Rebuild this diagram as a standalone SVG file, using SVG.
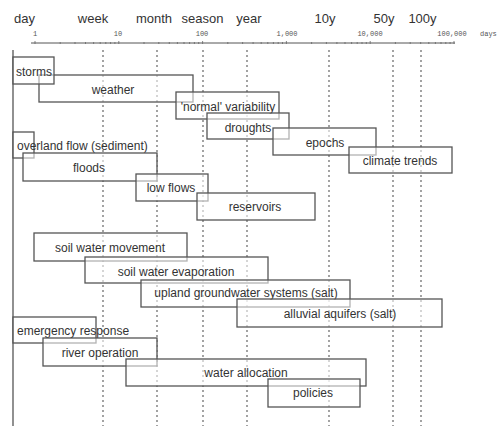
<svg xmlns="http://www.w3.org/2000/svg" width="502" height="426" viewBox="0 0 502 426">
<style>
.scale{font-family:"Liberation Sans",Arial,sans-serif;font-size:13px;fill:#333;text-anchor:middle}
.num{font-family:"Liberation Mono","Courier New",monospace;font-size:7px;fill:#555;text-anchor:middle}
.grid{stroke:#666;stroke-width:1.2;stroke-dasharray:2 3;fill:none}
.box rect{fill:#fff;fill-opacity:0.55;stroke:#555;stroke-width:1.3}
.box text{font-family:"Liberation Sans",Arial,sans-serif;font-size:12px;fill:#333;text-anchor:middle}
.box text.l{text-anchor:start}
.tick{stroke:#666;stroke-width:0.8}
</style>
<rect width="502" height="426" fill="#fff"/>
<g id="scale">
<text class="scale" x="24.5" y="23">day</text>
<text class="scale" x="93" y="23">week</text>
<text class="scale" x="154" y="23">month</text>
<text class="scale" x="202.5" y="23">season</text>
<text class="scale" x="249" y="23">year</text>
<text class="scale" x="325" y="23">10y</text>
<text class="scale" x="384" y="23">50y</text>
<text class="scale" x="422.5" y="23">100y</text>
<text class="num" x="35" y="36">1</text>
<text class="num" x="118" y="36">10</text>
<text class="num" x="202" y="36">100</text>
<text class="num" x="287" y="36">1,000</text>
<text class="num" x="370" y="36">10,000</text>
<text class="num" x="452" y="36">100,000</text>
<text class="num" x="480" y="36" style="text-anchor:start">days</text>
<line x1="31" y1="43" x2="455" y2="43" stroke="#555" stroke-width="1"/>
<path class="tick" d="M35 41v3M60.2 42v2M75 42v2M85.5 42v2M93.6 42v2M100.2 42v2M105.8 42v2M110.6 42v2M114.9 42v2M118.8 41v3M144 42v2M158.8 42v2M169.3 42v2M177.4 42v2M184 42v2M189.6 42v2M194.4 42v2M198.7 42v2M202.6 41v3M227.8 42v2M242.6 42v2M253.1 42v2M261.2 42v2M267.8 42v2M273.4 42v2M278.2 42v2M282.5 42v2M286.4 41v3M311.6 42v2M326.4 42v2M336.9 42v2M345 42v2M351.6 42v2M357.2 42v2M362 42v2M366.3 42v2M370.2 41v3M395.4 42v2M410.2 42v2M420.7 42v2M428.8 42v2M435.4 42v2M441 42v2M445.8 42v2M450.1 42v2M454 41v3"/>
</g>
<g id="grid">
<line x1="13" y1="50" x2="13" y2="426" stroke="#555" stroke-width="1.3"/>
<line class="grid" x1="103" y1="50" x2="103" y2="426"/>
<line class="grid" x1="157" y1="50" x2="157" y2="426"/>
<line class="grid" x1="203" y1="50" x2="203" y2="426"/>
<line class="grid" x1="247" y1="50" x2="247" y2="426"/>
<line class="grid" x1="329" y1="50" x2="329" y2="426"/>
<line class="grid" x1="393" y1="50" x2="393" y2="426"/>
<line class="grid" x1="421" y1="50" x2="421" y2="426"/>
</g>
<g id="connectors"></g>
<g id="weather" class="box"><rect x="39" y="75" width="154" height="27"/><text x="113" y="94">weather</text></g>
<g id="storms" class="box"><rect x="13" y="57" width="41" height="27"/><text x="34" y="76">storms</text></g>
<g id="normal-variability" class="box"><rect x="176" y="92" width="103" height="27"/><text x="228" y="111">'normal' variability</text></g>
<g id="droughts" class="box"><rect x="207" y="113" width="82" height="26"/><text x="248" y="132">droughts</text></g>
<g id="epochs" class="box"><rect x="273" y="128" width="103" height="27"/><text x="325" y="147">epochs</text></g>
<g id="climate-trends" class="box"><rect x="349" y="147" width="103" height="26"/><text x="400" y="165">climate trends</text></g>
<g id="overland-flow" class="box"><rect x="13" y="132" width="21" height="26"/><text class="l" x="17" y="150">overland flow (sediment)</text></g>
<g id="floods" class="box"><rect x="23" y="153" width="134" height="28"/><text x="89" y="172">floods</text></g>
<g id="low-flows" class="box"><rect x="136" y="174" width="72" height="27"/><text x="171" y="192">low flows</text></g>
<g id="reservoirs" class="box"><rect x="197" y="193" width="118" height="27"/><text x="255" y="211">reservoirs</text></g>
<g id="soil-water-movement" class="box"><rect x="34" y="233" width="153" height="28"/><text x="110" y="252">soil water movement</text></g>
<g id="soil-water-evaporation" class="box"><rect x="85" y="257" width="183" height="26"/><text x="176" y="276">soil water evaporation</text></g>
<g id="upland-groundwater" class="box"><rect x="141" y="280" width="209" height="27"/><text x="246" y="297">upland groundwater systems (salt)</text></g>
<g id="alluvial-aquifers" class="box"><rect x="237" y="299" width="205" height="28"/><text x="340" y="318">alluvial aquifers (salt)</text></g>
<g id="emergency-response" class="box"><rect x="13" y="317" width="83" height="26"/><text class="l" x="17" y="335">emergency response</text></g>
<g id="river-operation" class="box"><rect x="43" y="338" width="114" height="28"/><text x="100" y="357">river operation</text></g>
<g id="water-allocation" class="box"><rect x="126" y="359" width="240" height="27"/><text x="246" y="377">water allocation</text></g>
<g id="policies" class="box"><rect x="268" y="379" width="92" height="28"/><text x="313" y="397">policies</text></g>
</svg>
